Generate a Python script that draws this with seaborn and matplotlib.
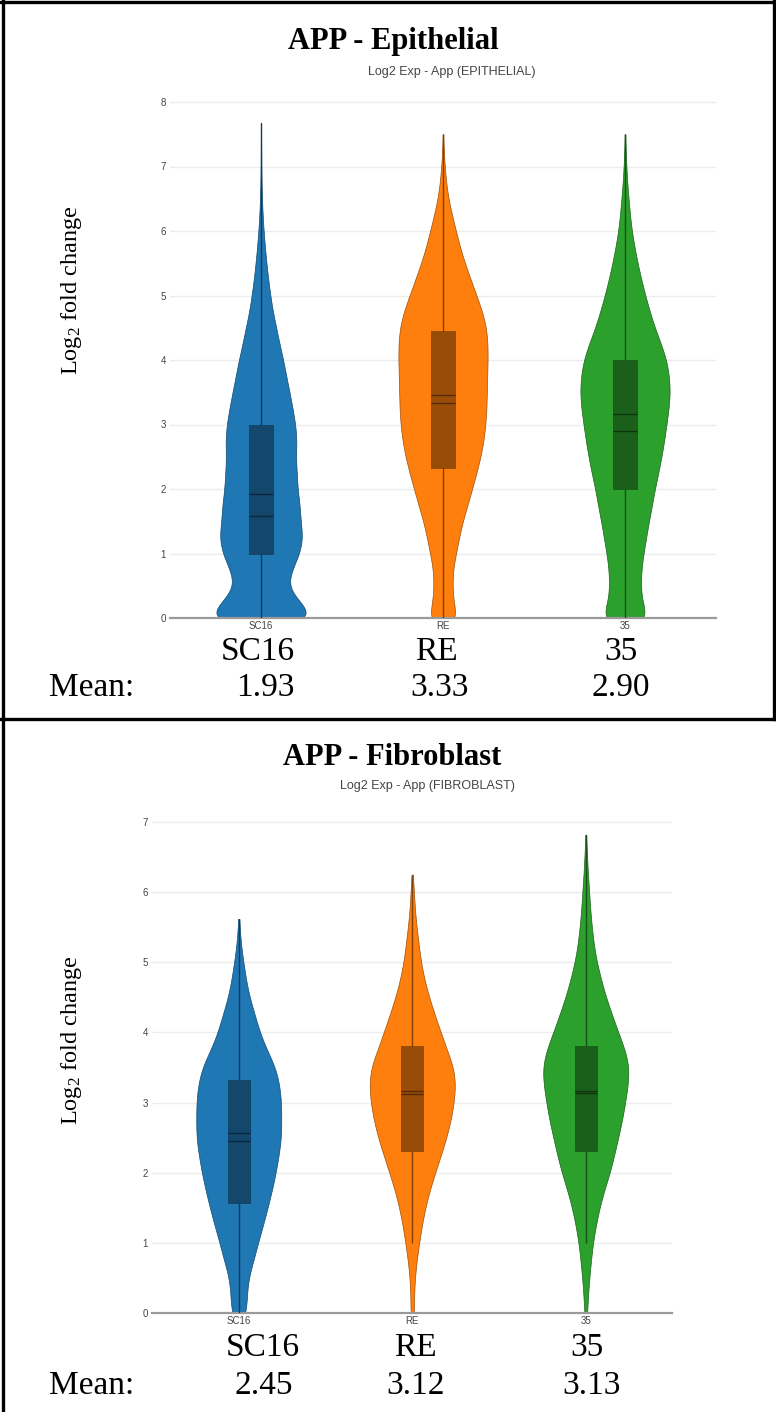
import numpy as np
import pandas as pd
import matplotlib
matplotlib.use("Agg")
import matplotlib.pyplot as plt
from matplotlib.colors import to_rgb
from matplotlib.lines import Line2D
import seaborn as sns

W, H = 776, 1412

groups = ["SC16", "RE", "35"]
palette = ["#1f77b4", "#ff7f0e", "#2ca02c"]

# log2 expression levels and the number of cells found at each level
levels = [0.0, 0.25, 0.5, 0.75, 1.0, 1.25, 1.5, 1.75, 2.0, 2.25, 2.5, 2.75,
          3.0, 3.25, 3.5, 3.75, 4.0, 4.25, 4.5, 4.75, 5.0, 5.25, 5.5, 5.75,
          6.0, 6.25, 6.5, 6.75, 7.0, 7.25, 7.5]

# Epithelial cells
epi_sc16_counts = [520, 352, 240, 284, 356, 384, 364, 356, 336, 328, 320, 328,
                   316, 290, 262, 232, 204, 170, 140, 108, 86, 66, 50, 36,
                   24, 15, 9, 5, 3, 2, 1]
epi_re_counts = [135, 92, 84, 88, 116, 144, 176, 220, 260, 300, 336, 364,
                 380, 390, 392, 396, 400, 400, 388, 352, 300, 248, 196, 152,
                 116, 80, 48, 28, 16, 6, 2]
epi_35_counts = [220, 148, 140, 144, 164, 188, 212, 240, 264, 296, 324, 348,
                 368, 388, 400, 392, 368, 320, 264, 220, 180, 144, 112, 84,
                 60, 44, 32, 20, 12, 6, 2]
epi_max = [7.68, 7.5, 7.5]
epi_q1 = [1.0, 2.32, 2.0]
epi_median = [1.58, 3.45, 3.17]
epi_q3 = [3.0, 4.45, 4.0]
epi_mean = [1.93, 3.33, 2.90]
epi_whisker_lo = [0.0, 0.0, 0.0]
epi_whisker_hi = [7.68, 7.5, 7.5]

# Fibroblasts
fib_sc16_counts = [75, 76, 88, 140, 180, 228, 272, 312, 348, 376, 400, 400,
                   400, 384, 348, 264, 196, 152, 100, 68, 44, 20, 8, 0,
                   0, 0, 0, 0, 0, 0, 0]
fib_re_counts = [18, 16, 24, 40, 64, 88, 120, 160, 212, 264, 316, 356,
                 384, 400, 384, 320, 264, 208, 156, 112, 80, 60, 40, 24,
                 16, 4, 0, 0, 0, 0, 0]
fib_35_counts = [14, 20, 32, 48, 64, 92, 124, 168, 220, 260, 296, 332,
                 360, 384, 400, 360, 296, 240, 184, 140, 100, 72, 56, 40,
                 32, 20, 12, 4, 0, 0, 0]
fib_max = [5.62, 6.25, 6.82]
fib_q1 = [1.57, 2.31, 2.31]
fib_median = [2.57, 3.17, 3.17]
fib_q3 = [3.32, 3.80, 3.80]
fib_mean = [2.45, 3.12, 3.13]
fib_whisker_lo = [0.0, 1.0, 1.0]
fib_whisker_hi = [5.62, 6.25, 6.82]

sns.set_theme(style="white")
plt.rcParams["font.family"] = ["Liberation Sans", "DejaVu Sans"]
plt.rcParams["mathtext.fontset"] = "custom"
plt.rcParams["mathtext.rm"] = "Liberation Serif"
plt.rcParams["mathtext.it"] = "Liberation Serif:italic"
plt.rcParams["mathtext.bf"] = "Liberation Serif:bold"

SERIF = ["Liberation Serif", "DejaVu Serif"]


def fx(px):
    return px / W


def fy(py):
    return 1 - py / H


def shade(c, f):
    r, g, b = to_rgb(c)
    return (r * f, g * f, b * f)


def build_frame(counts_by_group, maxima):
    parts = []
    for g, counts, top in zip(groups, counts_by_group, maxima):
        vals = np.append(np.repeat(levels, counts), top)
        parts.append(pd.DataFrame({"group": g, "value": vals}))
    return pd.concat(parts, ignore_index=True)


def draw_panel(ax, df, bw, q1, med, q3, mean, wlo, whi, ymax, yticks):
    sns.violinplot(data=df, x="group", y="value", hue="group",
                   order=groups, hue_order=groups, palette=palette,
                   saturation=1, inner=None, cut=0, density_norm="width",
                   width=0.49, bw_method=bw, gridsize=400, linewidth=0.5,
                   linecolor="#333333", legend=False, ax=ax)
    for coll, c in zip(ax.collections, palette):
        coll.set_edgecolor(shade(c, 0.62))
        coll.set_zorder(2)

    xs = np.arange(len(groups), dtype=float)
    half = 0.064
    for i, c in enumerate(palette):
        ax.vlines(xs[i], wlo[i], whi[i], color=shade(c, 0.5),
                  linewidth=1.0, zorder=3)
    ax.bar(xs, np.subtract(q3, q1), bottom=q1, width=2 * half,
           color=[shade(c, 0.6) for c in palette],
           edgecolor=[shade(c, 0.5) for c in palette],
           linewidth=0.5, zorder=4)
    line_cols = [shade(c, 0.33) for c in palette]
    ax.hlines(med, xs - half, xs + half, colors=line_cols, linewidth=1.0, zorder=5)
    ax.hlines(mean, xs - half, xs + half, colors=line_cols, linewidth=1.0, zorder=5)

    ax.set_xlim(-0.5, len(groups) - 0.5)
    ax.set_ylim(0, ymax)
    ax.set_yticks(yticks)
    ax.set_xlabel("")
    ax.set_ylabel("")
    ax.grid(axis="y", color="#ececec", linewidth=1.0)
    ax.grid(axis="x", visible=False)
    ax.set_axisbelow(True)
    for side in ("left", "top", "right"):
        ax.spines[side].set_visible(False)
    ax.spines["bottom"].set_color("#9a9a9a")
    ax.spines["bottom"].set_linewidth(1.6)
    ax.tick_params(axis="both", length=0, labelsize=7, labelcolor="#444444")
    ax.tick_params(axis="y", pad=3)
    ax.tick_params(axis="x", pad=2.5)


fig = plt.figure(figsize=(W / 100, H / 100), dpi=100)
fig.patch.set_facecolor("white")

# Epithelial panel
epi_df = build_frame([epi_sc16_counts, epi_re_counts, epi_35_counts], epi_max)
ax1 = fig.add_axes([fx(170), fy(618), (716 - 170) / W, 8.05 * 64.5 / H])
draw_panel(ax1, epi_df, 0.11, epi_q1, epi_median, epi_q3, epi_mean,
           epi_whisker_lo, epi_whisker_hi, 8.05, range(0, 9))

# Fibroblast panel
fib_df = build_frame([fib_sc16_counts, fib_re_counts, fib_35_counts], fib_max)
ax2 = fig.add_axes([fx(152), fy(1313), (672.5 - 152) / W, 7.05 * 70.14 / H])
draw_panel(ax2, fib_df, 0.16, fib_q1, fib_median, fib_q3, fib_mean,
           fib_whisker_lo, fib_whisker_hi, 7.05, range(0, 8))

ylab = "Log$_2$ fold change"
INK = "black"
big = dict(ha="center", va="center", fontsize=24, family=SERIF, color=INK)

# Epithelial texts
fig.text(fx(393), fy(42), "APP - Epithelial", ha="center", va="center",
         fontsize=22, fontweight="bold", family=SERIF, color=INK)
fig.text(fx(452), fy(72), "Log2 Exp - App (EPITHELIAL)", ha="center",
         va="center", fontsize=9, color="#444444")
fig.text(fx(71), fy(290), ylab, ha="center", va="center", rotation=90,
         fontsize=17.5, family=SERIF, color=INK)
for g, x in zip(groups, [258, 436, 621]):
    fig.text(fx(x), fy(652), g, **big)
fig.text(fx(92), fy(688), "Mean:", **big)
for m, x in zip(epi_mean, [265, 440, 621]):
    fig.text(fx(x), fy(688), f"{m:.2f}", **big)

# Fibroblast texts
fig.text(fx(392), fy(757), "APP - Fibroblast", ha="center", va="center",
         fontsize=22, fontweight="bold", family=SERIF, color=INK)
fig.text(fx(427), fy(786), "Log2 Exp - App (FIBROBLAST)", ha="center",
         va="center", fontsize=9, color="#444444")
fig.text(fx(71), fy(1040), ylab, ha="center", va="center", rotation=90,
         fontsize=17.5, family=SERIF, color=INK)
for g, x in zip(groups, [263, 415, 587]):
    fig.text(fx(x), fy(1348), g, **big)
fig.text(fx(92), fy(1386), "Mean:", **big)
for m, x in zip(fib_mean, [264, 416, 592]):
    fig.text(fx(x), fy(1386), f"{m:.2f}", **big)

# Panel frames
frame_kw = dict(color="black", linewidth=2.4, solid_capstyle="projecting")
fig.add_artist(Line2D([fx(3), fx(3)], [fy(0), fy(H)], **frame_kw))
fig.add_artist(Line2D([fx(0), fx(W)], [fy(2), fy(2)], **frame_kw))
fig.add_artist(Line2D([fx(774), fx(774)], [fy(0), fy(719)], **frame_kw))
fig.add_artist(Line2D([fx(0), fx(W)], [fy(719), fy(719)], **frame_kw))

fig.savefig("out.png", dpi=100)
